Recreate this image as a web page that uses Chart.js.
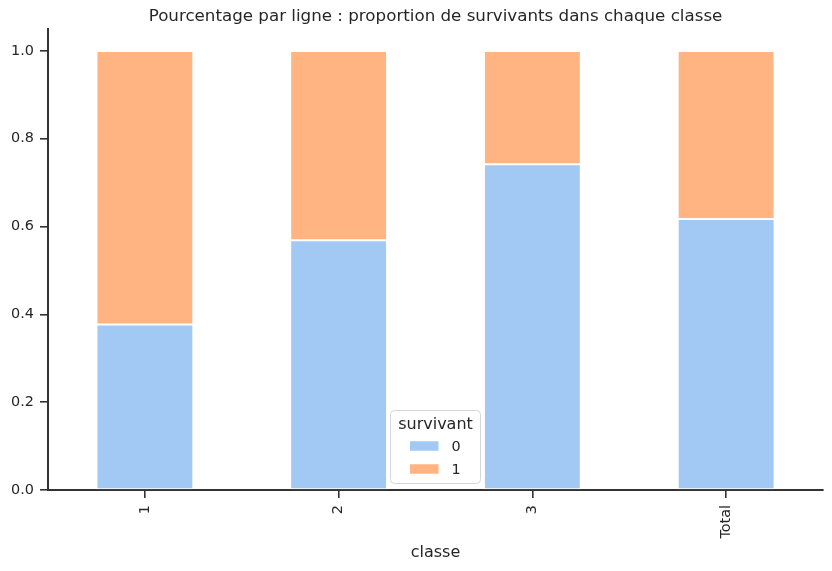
<!DOCTYPE html>
<html>
<head>
<meta charset="utf-8">
<script src="https://cdn.jsdelivr.net/npm/chart.js@4.4.1/dist/chart.umd.min.js"></script>
<style>
  html, body { margin: 0; padding: 0; background: #fff; }
  canvas { display: block; }
</style>
</head>
<body>
<canvas id="chart" width="832" height="571"></canvas>
<script>
// Data
const categories = ['1', '2', '3', 'Total'];
const seriesLabels = ['0', '1'];
const survivant0 = [0.377, 0.569, 0.742, 0.617];
const survivant1 = [0.623, 0.431, 0.258, 0.383];
const yTicks = [0.0, 0.2, 0.4, 0.6, 0.8, 1.0];

const chartTitle = 'Pourcentage par ligne : proportion de survivants dans chaque classe';
const legendTitle = 'survivant';
const colors = ['#a1c9f4', '#ffb482'];
const inkColor = '#262626';
const axisColor = '#333333';
const fontFamily = '"DejaVu Sans", sans-serif';
const tickSize = 14.4;

// Title centred over the plot area, like matplotlib does
const titlePlugin = {
    id: 'plotTitle',
    afterDraw(chart) {
        const ctx = chart.ctx;
        const area = chart.chartArea;
        ctx.save();
        ctx.font = '16.7px ' + fontFamily;
        ctx.fillStyle = inkColor;
        ctx.textAlign = 'center';
        ctx.textBaseline = 'middle';
        ctx.fillText(chartTitle, (area.left + area.right) / 2, 17);
        ctx.restore();
    }
};

// Legend box drawn inside the plot area (lower centre)
const innerLegend = {
    id: 'innerLegend',
    afterDraw(chart) {
        const ctx = chart.ctx;
        const area = chart.chartArea;
        const w = 90, h = 73;
        const left = (area.left + area.right) / 2 - w / 2;
        const top = area.bottom - 6.5 - h;

        ctx.save();
        ctx.beginPath();
        ctx.roundRect(left, top, w, h, 4);
        ctx.fillStyle = 'rgba(255,255,255,0.8)';
        ctx.fill();
        ctx.lineWidth = 1;
        ctx.strokeStyle = '#d6d6d6';
        ctx.stroke();

        ctx.fillStyle = inkColor;
        ctx.font = '16px ' + fontFamily;
        ctx.textAlign = 'center';
        ctx.textBaseline = 'middle';
        ctx.fillText(legendTitle, left + w / 2, top + 14);

        ctx.font = tickSize + 'px ' + fontFamily;
        chart.data.datasets.forEach((ds, i) => {
            const cy = top + 35.5 + i * 23;
            ctx.fillStyle = ds.backgroundColor;
            ctx.fillRect(left + 19.5, cy - 4.75, 28.5, 9.5);
            ctx.fillStyle = inkColor;
            ctx.textAlign = 'left';
            ctx.fillText(ds.label, left + 61, cy + 1);
        });
        ctx.restore();
    }
};

const ctx = document.getElementById('chart').getContext('2d');
new Chart(ctx, {
    type: 'bar',
    data: {
        labels: categories,
        datasets: [
            {
                label: seriesLabels[0],
                data: survivant0,
                backgroundColor: colors[0],
                borderColor: '#ffffff',
                borderWidth: 1,
                borderSkipped: false
            },
            {
                label: seriesLabels[1],
                data: survivant1,
                backgroundColor: colors[1],
                borderColor: '#ffffff',
                borderWidth: 1,
                borderSkipped: false
            }
        ]
    },
    options: {
        responsive: false,
        animation: false,
        devicePixelRatio: 1,
        layout: {
            padding: { top: 29, right: 9, left: 0, bottom: 0 }
        },
        datasets: {
            bar: { barPercentage: 0.5, categoryPercentage: 1.0 }
        },
        plugins: {
            legend: { display: false },
            title: { display: false },
            tooltip: { enabled: false }
        },
        scales: {
            x: {
                stacked: true,
                grid: {
                    display: true,
                    offset: false,
                    drawOnChartArea: false,
                    drawTicks: true,
                    tickLength: 8,
                    color: axisColor,
                    lineWidth: 1.6
                },
                border: { display: true, color: axisColor, width: 2 },
                ticks: {
                    color: inkColor,
                    font: { family: fontFamily, size: tickSize },
                    minRotation: 90,
                    maxRotation: 90,
                    padding: 7
                },
                title: {
                    display: true,
                    text: 'classe',
                    color: inkColor,
                    font: { family: fontFamily, size: 16 },
                    padding: { top: 4, bottom: 8.4 }
                },
                afterFit(scale) { scale.height = 81; }
            },
            y: {
                stacked: true,
                min: 0,
                max: 1.05,
                grid: {
                    display: true,
                    drawOnChartArea: false,
                    drawTicks: true,
                    tickLength: 8,
                    color: axisColor,
                    lineWidth: 1.6
                },
                border: { display: true, color: axisColor, width: 2 },
                ticks: {
                    color: inkColor,
                    font: { family: fontFamily, size: tickSize },
                    padding: 6,
                    callback: value => Number(value).toFixed(1)
                },
                afterBuildTicks(scale) {
                    scale.ticks = yTicks.map(v => ({ value: v }));
                },
                afterFit(scale) { scale.width = 48; }
            }
        }
    },
    plugins: [titlePlugin, innerLegend]
});
</script>
</body>
</html>
